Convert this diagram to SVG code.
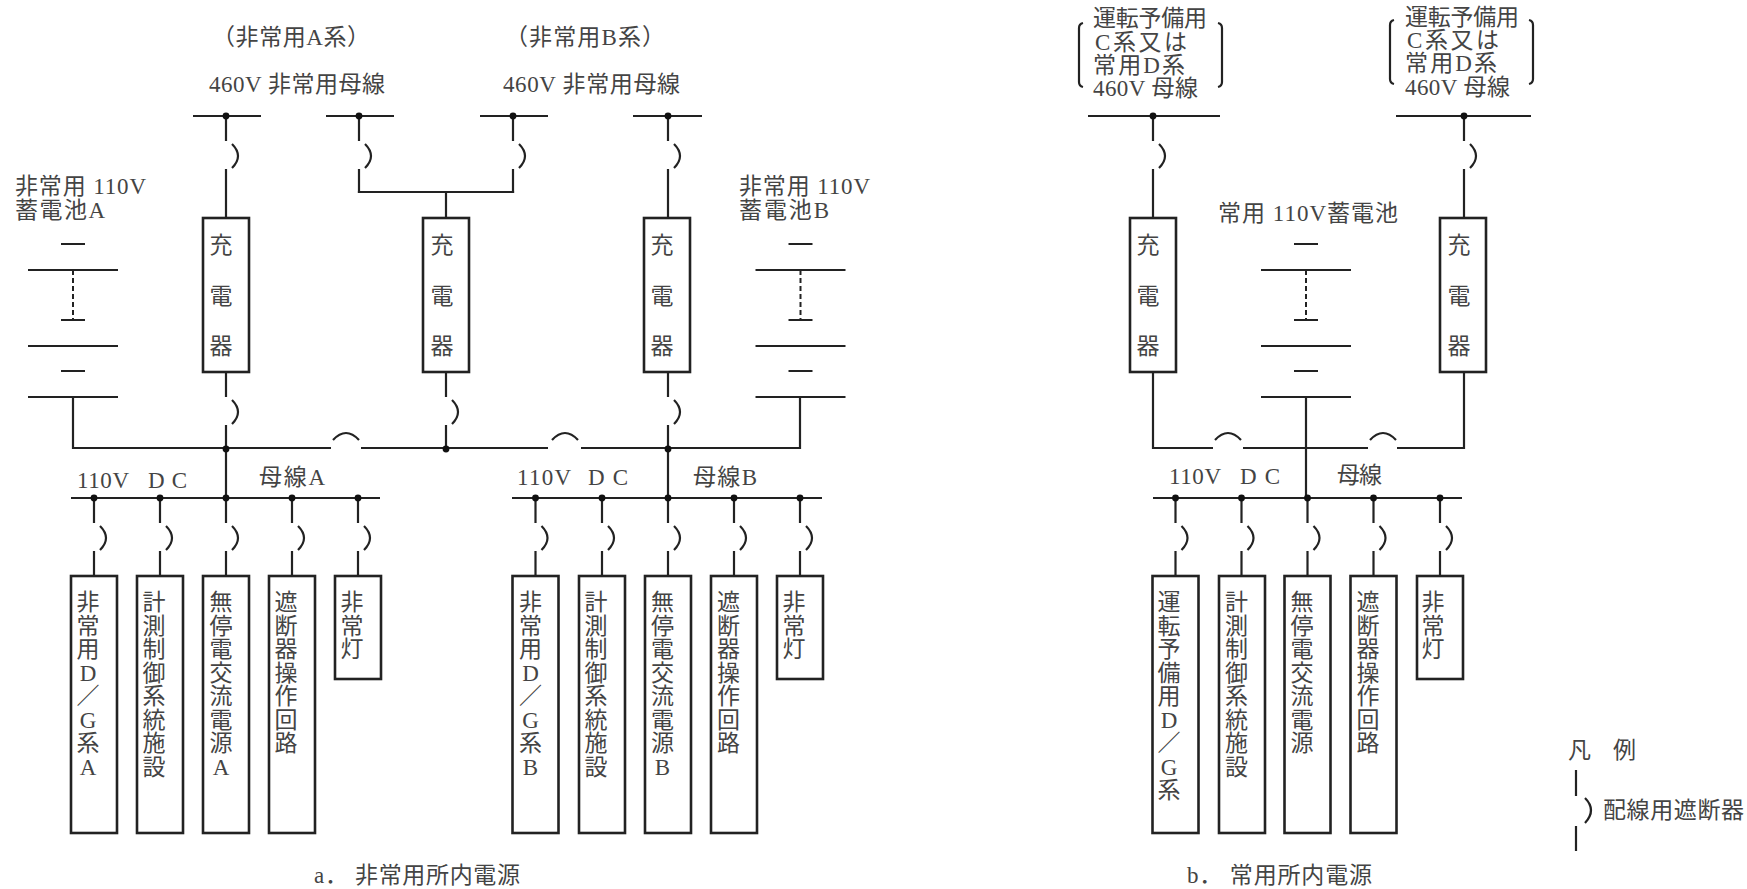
<svg xmlns="http://www.w3.org/2000/svg" xmlns:xlink="http://www.w3.org/1999/xlink" width="1747" height="889" viewBox="0 0 1747 889">
<style>
text{font-family:"Liberation Serif","Noto Sans CJK JP",sans-serif;font-size:23px;fill:#444}
.m{text-anchor:middle}
.box{fill:#fff;stroke:#222;stroke-width:2.6}
.ln,.ln path{fill:none;stroke:#222;stroke-width:2.2}
.bat{fill:none;stroke:#222;stroke-width:2}
.dash{stroke-dasharray:5 3}
.dot{fill:#111}
</style>
<defs>
<path id="brk" d="M0 0V25M6 28Q18 40 6 52M0 53V77"/>
<circle id="d" r="3.4"/>
<path id="hop" d="M0 8Q13 -6 26 8"/>
<g id="battery"><path class="bat" d="M-12 244H12M-45 270H45M-12 320H12M-45 346H45M-12 371H12M-45 397H45"/><path class="bat dash" d="M0 270V320"/></g>
</defs>
<rect width="1747" height="889" fill="#fff"/>

<g id="connectors" class="ln">
<path d="M193 116H261M326 116H394M480 116H548M633 116H702"/>
<path d="M226 193V218M359 193V192H513V193M446 192V218M668 193V218"/>
<path d="M73 397V448H331M361 448H548M581 448H800V397"/>
<path d="M226 449V498M668 449V498"/>
<path d="M71 498H380M512 498H822"/>
<path d="M1088 116H1220M1396 116H1531"/>
<path d="M1153 193V218M1464 193V218"/>
<path d="M1153 372V448H1213M1243 448H1368M1397 448H1464V372M1306 397V498"/>
<path d="M1153 498H1462"/>
<g>
<use href="#brk" x="226" y="116"/><use href="#brk" x="359" y="116"/><use href="#brk" x="513" y="116"/><use href="#brk" x="668" y="116"/>
<use href="#brk" x="226" y="372"/><use href="#brk" x="446" y="372"/><use href="#brk" x="668" y="372"/>
<use href="#brk" x="94" y="498"/><use href="#brk" x="160" y="498"/><use href="#brk" x="226" y="498"/><use href="#brk" x="292" y="498"/><use href="#brk" x="358" y="498"/>
<use href="#brk" x="535.5" y="498"/><use href="#brk" x="602" y="498"/><use href="#brk" x="668" y="498"/><use href="#brk" x="734" y="498"/><use href="#brk" x="800" y="498"/>
<use href="#brk" x="1153" y="116"/><use href="#brk" x="1464" y="116"/>
<use href="#brk" x="1175.5" y="498"/><use href="#brk" x="1241.5" y="498"/><use href="#brk" x="1307.5" y="498"/><use href="#brk" x="1373.5" y="498"/><use href="#brk" x="1440" y="498"/>
<use href="#hop" x="333" y="432"/><use href="#hop" x="552" y="432"/><use href="#hop" x="1215" y="432"/><use href="#hop" x="1370" y="432"/>
</g>
<g class="dot" style="stroke:none">
<use href="#d" x="226" y="116"/><use href="#d" x="359" y="116"/><use href="#d" x="513" y="116"/><use href="#d" x="668" y="116"/>
<use href="#d" x="226" y="449"/><use href="#d" x="446" y="449"/><use href="#d" x="668" y="449"/>
<use href="#d" x="94" y="498"/><use href="#d" x="160" y="498"/><use href="#d" x="226" y="498"/><use href="#d" x="292" y="498"/><use href="#d" x="358" y="498"/>
<use href="#d" x="535.5" y="498"/><use href="#d" x="602" y="498"/><use href="#d" x="668" y="498"/><use href="#d" x="734" y="498"/><use href="#d" x="800" y="498"/>
<use href="#d" x="1153" y="116"/><use href="#d" x="1464" y="116"/>
<use href="#d" x="1175.5" y="498"/><use href="#d" x="1241.5" y="498"/><use href="#d" x="1307.5" y="498"/><use href="#d" x="1373.5" y="498"/><use href="#d" x="1440" y="498"/>
</g>
</g>

<g id="labels-top">
<text x="212" y="45" textLength="158">（非常用A系）</text>
<text x="505" y="45" textLength="160">（非常用B系）</text>
<text x="209" y="92" textLength="176">460V 非常用母線</text>
<text x="503" y="92" textLength="177">460V 非常用母線</text>
<text x="15" y="194" textLength="131">非常用 110V</text>
<text x="15" y="218" textLength="90">蓄電池A</text>
<text x="739" y="194" textLength="131">非常用 110V</text>
<text x="739" y="218" textLength="90">蓄電池B</text>
<text x="1218" y="221" textLength="180">常用 110V蓄電池</text>
</g>
<g id="labels-normal-bus">
<text x="1093" y="26" textLength="114">運転予備用</text><text x="1095" y="50" textLength="92">C系又は</text><text x="1093" y="73" textLength="92">常用D系</text><text x="1093" y="96" textLength="105">460V 母線</text>
<path class="ln" d="M1083 23Q1079 24 1079 28V82Q1079 86 1083 87M1218 23Q1222 24 1222 28V82Q1222 86 1218 87"/>
<text x="1405" y="25" textLength="114">運転予備用</text><text x="1407" y="48" textLength="92">C系又は</text><text x="1405" y="71" textLength="92">常用D系</text><text x="1405" y="95" textLength="105">460V 母線</text>
<path class="ln" d="M1394 20Q1390 21 1390 25V79Q1390 83 1394 84M1529 20Q1533 21 1533 25V79Q1533 83 1529 84"/>
</g>
<g id="labels-bus">
<text x="77" y="488" textLength="52">110V</text><text x="148" y="488" textLength="39">DC</text><text x="259" y="485" textLength="66">母線A</text>
<text x="517" y="485" textLength="54">110V</text><text x="588" y="485" textLength="40">DC</text><text x="693" y="485" textLength="64">母線B</text>
<text x="1169" y="484" textLength="52">110V</text><text x="1240" y="484" textLength="40">DC</text><text x="1337" y="483" textLength="45">母線</text>
</g>

<g id="battery-a"><use href="#battery" x="73"/></g>
<g id="battery-b"><use href="#battery" x="800.5"/></g>
<g id="battery-n"><use href="#battery" x="1306"/></g>

<g id="charger-1"><rect class="box" x="203" y="218" width="46" height="154"/><text class="m" x="221" y="253">充</text><text class="m" x="221" y="304">電</text><text class="m" x="221" y="354">器</text></g>
<g id="charger-2"><rect class="box" x="423" y="218" width="46" height="154"/><text class="m" x="442" y="253">充</text><text class="m" x="442" y="304">電</text><text class="m" x="442" y="354">器</text></g>
<g id="charger-3"><rect class="box" x="644" y="218" width="46" height="154"/><text class="m" x="662" y="253">充</text><text class="m" x="662" y="304">電</text><text class="m" x="662" y="354">器</text></g>
<g id="charger-4"><rect class="box" x="1130" y="218" width="46" height="154"/><text class="m" x="1148" y="253">充</text><text class="m" x="1148" y="304">電</text><text class="m" x="1148" y="354">器</text></g>
<g id="charger-5"><rect class="box" x="1440" y="218" width="46" height="154"/><text class="m" x="1459" y="253">充</text><text class="m" x="1459" y="304">電</text><text class="m" x="1459" y="354">器</text></g>

<g id="a1"><rect class="box" x="71" y="576" width="46" height="257"/><text class="m" y="610"><tspan x="88">非</tspan><tspan x="88" dy="23.5">常</tspan><tspan x="88" dy="23.5">用</tspan><tspan x="88" dy="23.5">D</tspan><tspan x="88" dy="23.5">／</tspan><tspan x="88" dy="23.5">G</tspan><tspan x="88" dy="23.5">系</tspan><tspan x="88" dy="23.5">A</tspan></text></g>
<g id="a2"><rect class="box" x="137" y="576" width="46" height="257"/><text class="m" y="610"><tspan x="154">計</tspan><tspan x="154" dy="23.5">測</tspan><tspan x="154" dy="23.5">制</tspan><tspan x="154" dy="23.5">御</tspan><tspan x="154" dy="23.5">系</tspan><tspan x="154" dy="23.5">統</tspan><tspan x="154" dy="23.5">施</tspan><tspan x="154" dy="23.5">設</tspan></text></g>
<g id="a3"><rect class="box" x="203" y="576" width="46" height="257"/><text class="m" y="610"><tspan x="221">無</tspan><tspan x="221" dy="23.5">停</tspan><tspan x="221" dy="23.5">電</tspan><tspan x="221" dy="23.5">交</tspan><tspan x="221" dy="23.5">流</tspan><tspan x="221" dy="23.5">電</tspan><tspan x="221" dy="23.5">源</tspan><tspan x="221" dy="23.5">A</tspan></text></g>
<g id="a4"><rect class="box" x="269" y="576" width="46" height="257"/><text class="m" y="610"><tspan x="286">遮</tspan><tspan x="286" dy="23.5">断</tspan><tspan x="286" dy="23.5">器</tspan><tspan x="286" dy="23.5">操</tspan><tspan x="286" dy="23.5">作</tspan><tspan x="286" dy="23.5">回</tspan><tspan x="286" dy="23.5">路</tspan></text></g>
<g id="a5"><rect class="box" x="335" y="576" width="46" height="103"/><text class="m" y="610"><tspan x="352">非</tspan><tspan x="352" dy="23.5">常</tspan><tspan x="352" dy="23.5">灯</tspan></text></g>

<g id="b1"><rect class="box" x="512.500" y="576" width="46" height="257"/><text class="m" y="610"><tspan x="530.500">非</tspan><tspan x="530.500" dy="23.5">常</tspan><tspan x="530.500" dy="23.5">用</tspan><tspan x="530.500" dy="23.5">D</tspan><tspan x="530.500" dy="23.5">／</tspan><tspan x="530.500" dy="23.5">G</tspan><tspan x="530.500" dy="23.5">系</tspan><tspan x="530.500" dy="23.5">B</tspan></text></g>
<g id="b2"><rect class="box" x="579" y="576" width="46" height="257"/><text class="m" y="610"><tspan x="596">計</tspan><tspan x="596" dy="23.5">測</tspan><tspan x="596" dy="23.5">制</tspan><tspan x="596" dy="23.5">御</tspan><tspan x="596" dy="23.5">系</tspan><tspan x="596" dy="23.5">統</tspan><tspan x="596" dy="23.5">施</tspan><tspan x="596" dy="23.5">設</tspan></text></g>
<g id="b3"><rect class="box" x="645" y="576" width="46" height="257"/><text class="m" y="610"><tspan x="662.500">無</tspan><tspan x="662.500" dy="23.5">停</tspan><tspan x="662.500" dy="23.5">電</tspan><tspan x="662.500" dy="23.5">交</tspan><tspan x="662.500" dy="23.5">流</tspan><tspan x="662.500" dy="23.5">電</tspan><tspan x="662.500" dy="23.5">源</tspan><tspan x="662.500" dy="23.5">B</tspan></text></g>
<g id="b4"><rect class="box" x="711" y="576" width="46" height="257"/><text class="m" y="610"><tspan x="728.500">遮</tspan><tspan x="728.500" dy="23.5">断</tspan><tspan x="728.500" dy="23.5">器</tspan><tspan x="728.500" dy="23.5">操</tspan><tspan x="728.500" dy="23.5">作</tspan><tspan x="728.500" dy="23.5">回</tspan><tspan x="728.500" dy="23.5">路</tspan></text></g>
<g id="b5"><rect class="box" x="777" y="576" width="46" height="103"/><text class="m" y="610"><tspan x="794">非</tspan><tspan x="794" dy="23.5">常</tspan><tspan x="794" dy="23.5">灯</tspan></text></g>

<g id="c1"><rect class="box" x="1152.500" y="576" width="46" height="257"/><text class="m" y="610"><tspan x="1169">運</tspan><tspan x="1169" dy="23.5">転</tspan><tspan x="1169" dy="23.5">予</tspan><tspan x="1169" dy="23.5">備</tspan><tspan x="1169" dy="23.5">用</tspan><tspan x="1169" dy="23.5">D</tspan><tspan x="1169" dy="23.5">／</tspan><tspan x="1169" dy="23.5">G</tspan><tspan x="1169" dy="23.5">系</tspan></text></g>
<g id="c2"><rect class="box" x="1219" y="576" width="46" height="257"/><text class="m" y="610"><tspan x="1236.500">計</tspan><tspan x="1236.500" dy="23.5">測</tspan><tspan x="1236.500" dy="23.5">制</tspan><tspan x="1236.500" dy="23.5">御</tspan><tspan x="1236.500" dy="23.5">系</tspan><tspan x="1236.500" dy="23.5">統</tspan><tspan x="1236.500" dy="23.5">施</tspan><tspan x="1236.500" dy="23.5">設</tspan></text></g>
<g id="c3"><rect class="box" x="1284.500" y="576" width="46" height="257"/><text class="m" y="610"><tspan x="1302">無</tspan><tspan x="1302" dy="23.5">停</tspan><tspan x="1302" dy="23.5">電</tspan><tspan x="1302" dy="23.5">交</tspan><tspan x="1302" dy="23.5">流</tspan><tspan x="1302" dy="23.5">電</tspan><tspan x="1302" dy="23.5">源</tspan></text></g>
<g id="c4"><rect class="box" x="1350.500" y="576" width="46" height="257"/><text class="m" y="610"><tspan x="1368">遮</tspan><tspan x="1368" dy="23.5">断</tspan><tspan x="1368" dy="23.5">器</tspan><tspan x="1368" dy="23.5">操</tspan><tspan x="1368" dy="23.5">作</tspan><tspan x="1368" dy="23.5">回</tspan><tspan x="1368" dy="23.5">路</tspan></text></g>
<g id="c5"><rect class="box" x="1417" y="576" width="46" height="103"/><text class="m" y="610"><tspan x="1433">非</tspan><tspan x="1433" dy="23.5">常</tspan><tspan x="1433" dy="23.5">灯</tspan></text></g>

<g id="captions">
<text x="314" y="883" textLength="206">a． 非常用所内電源</text>
<text x="1187" y="883" textLength="185">b． 常用所内電源</text>
</g>
<g id="legend">
<text x="1568" y="758" textLength="68">凡　例</text>
<g class="ln"><path d="M1576 770V796M1585 798Q1597 810 1585 823M1576 826V851"/></g>
<text x="1603" y="818" textLength="141">配線用遮断器</text>
</g>
</svg>
